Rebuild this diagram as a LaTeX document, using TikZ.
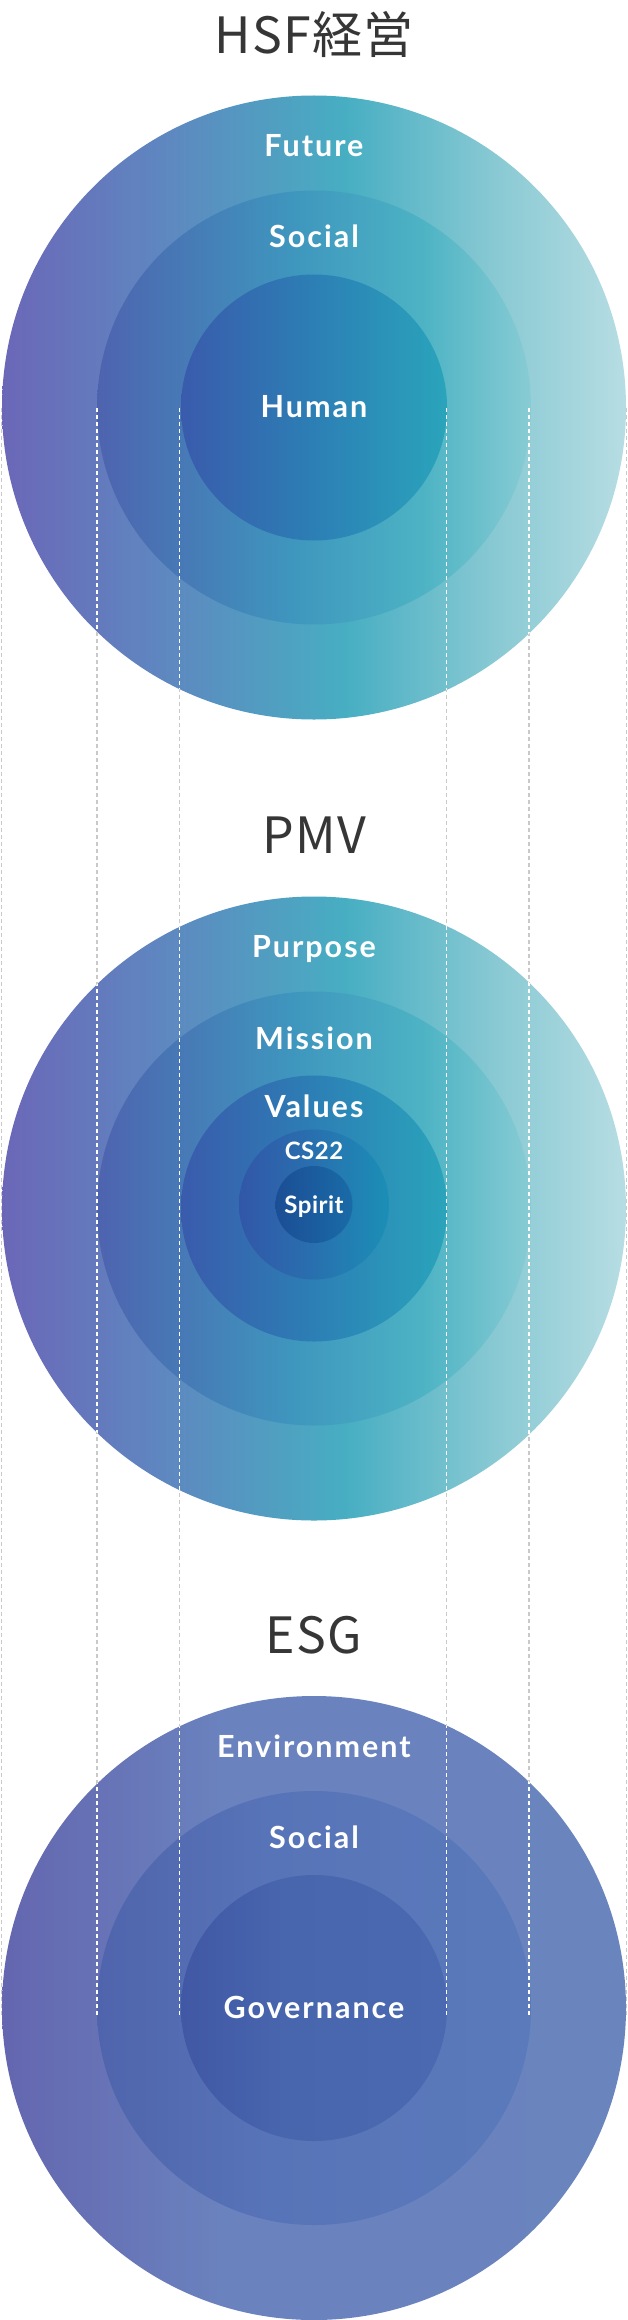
\documentclass[tikz,border=0pt]{standalone}
\usepackage{fontspec}
\setmainfont{Lato}
\newfontfamily\titlefont[LetterSpace=2.5]{Noto Sans CJK JP}
\newfontfamily\labelfont[LetterSpace=6.5]{Lato}
\newfontfamily\smallfont[LetterSpace=2.0]{Lato}
\definecolor{titlecol}{HTML}{363636}
\definecolor{guidecol}{HTML}{C9C9C9}
% HSF / PMV colours
\definecolor{oA}{HTML}{6B67B8}\definecolor{oB}{HTML}{5F86C0}\definecolor{oC}{HTML}{47AEC2}\definecolor{oD}{HTML}{8BCAD4}\definecolor{oE}{HTML}{B7DDE3}
\definecolor{mA}{HTML}{4E63AF}\definecolor{mB}{HTML}{3E96BE}\definecolor{mC}{HTML}{4DB3C4}\definecolor{mD}{HTML}{88CCD4}
\definecolor{iA}{HTML}{3A5BAC}\definecolor{iB}{HTML}{2C7FB5}\definecolor{iC}{HTML}{2AA4BB}
\definecolor{cA}{HTML}{3257A8}\definecolor{cB}{HTML}{2870AF}\definecolor{cC}{HTML}{1B8FB6}
\definecolor{sA}{HTML}{1B4E95}\definecolor{sB}{HTML}{1A6BA7}
% ESG colours
\definecolor{eoA}{HTML}{6466AF}\definecolor{eoB}{HTML}{6A82BE}\definecolor{eoC}{HTML}{6A84BE}
\definecolor{emA}{HTML}{4F64AC}\definecolor{emB}{HTML}{5874B8}\definecolor{emC}{HTML}{5A7ABB}
\definecolor{eiA}{HTML}{4158A5}\definecolor{eiB}{HTML}{4866AE}\definecolor{eiC}{HTML}{4A69B0}
\pgfdeclarehorizontalshading{shOuter}{100bp}{color(0bp)=(oA); color(25bp)=(oA); color(37.5bp)=(oB); color(52.5bp)=(oC); color(65bp)=(oD); color(75bp)=(oE); color(100bp)=(oE)}
\pgfdeclarehorizontalshading{shMid}{100bp}{color(0bp)=(mA); color(25bp)=(mA); color(47.5bp)=(mB); color(62.5bp)=(mC); color(75bp)=(mD); color(100bp)=(mD)}
\pgfdeclarehorizontalshading{shInner}{100bp}{color(0bp)=(iA); color(25bp)=(iA); color(50bp)=(iB); color(75bp)=(iC); color(100bp)=(iC)}
\pgfdeclarehorizontalshading{shCS}{100bp}{color(0bp)=(cA); color(25bp)=(cA); color(50bp)=(cB); color(75bp)=(cC); color(100bp)=(cC)}
\pgfdeclarehorizontalshading{shSpirit}{100bp}{color(0bp)=(sA); color(25bp)=(sA); color(75bp)=(sB); color(100bp)=(sB)}
\pgfdeclarehorizontalshading{shEOuter}{100bp}{color(0bp)=(eoA); color(25bp)=(eoA); color(42.5bp)=(eoB); color(75bp)=(eoC); color(100bp)=(eoC)}
\pgfdeclarehorizontalshading{shEMid}{100bp}{color(0bp)=(emA); color(25bp)=(emA); color(45bp)=(emB); color(75bp)=(emC); color(100bp)=(emC)}
\pgfdeclarehorizontalshading{shEInner}{100bp}{color(0bp)=(eiA); color(25bp)=(eiA); color(45bp)=(eiB); color(75bp)=(eiC); color(100bp)=(eiC)}
\tikzset{
  ring/.style={circle, inner sep=0pt, draw=none, minimum size=#1, shade},
  lbl/.style={text=white, font=\labelfont\bfseries\fontsize{30.5}{32}\selectfont, anchor=base, inner sep=0pt},
  slbl/.style={text=white, font=\smallfont\bfseries\fontsize{24}{25}\selectfont, anchor=base, inner sep=0pt},
  ttl/.style={text=titlecol, font=\titlefont\fontsize{50}{52}\selectfont, anchor=base, inner sep=0pt},
  guide/.style={draw=guidecol, line width=1.2pt, dash pattern=on 4pt off 3pt},
  guidew/.style={draw=white, line width=1.2pt, dash pattern=on 4pt off 3pt},
}
\begin{document}
\begin{tikzpicture}[x=1pt,y=-1pt]
\useasboundingbox[fill=white] (0,0) rectangle (628,2320);
% titles
\node[ttl] (tHSF) at (314,54) {HSF経営};
\node[ttl] (tPMV) at (314,853) {PMV};
\node[ttl] (tESG) at (314,1653) {ESG};
% HSF circles
\node[ring=624pt, shading=shOuter] (hO) at (314,407.5) {};
\node[ring=434pt, shading=shMid] (hM) at (314,407.5) {};
\node[ring=266pt, shading=shInner] (hI) at (314,407.5) {};
% PMV circles
\node[ring=624pt, shading=shOuter] (pO) at (314,1208.5) {};
\node[ring=434pt, shading=shMid] (pM) at (314,1208.5) {};
\node[ring=266pt, shading=shInner] (pI) at (314,1208.5) {};
\node[ring=150pt, shading=shCS] (pC) at (314,1204.5) {};
\node[ring=77pt, shading=shSpirit] (pS) at (314,1204.5) {};
% ESG circles
\node[ring=624pt, shading=shEOuter] (eO) at (314,2008) {};
\node[ring=434pt, shading=shEMid] (eM) at (314,2008) {};
\node[ring=266pt, shading=shEInner] (eI) at (314,2008) {};
% guide lines
\foreach \gx [count=\gi] in {1.5,97,179.5,446.5,529,626.5}{
  \coordinate (gs\gi) at (\gx,408);
  \coordinate (ge\gi) at (\gx,2017);
  \draw[guide] (gs\gi) -- (ge\gi);
}
\begin{scope}
  \clip (314,407.5) circle (312) (314,1208.5) circle (312) (314,2008) circle (312);
  \foreach \gi in {1,...,6}{\draw[guidew] (gs\gi) -- (ge\gi);}
\end{scope}
% labels
\node[lbl] (lFuture) at (314,157) {Future};
\node[lbl] (lSocial) at (314,247) {Social};
\node[lbl] (lHuman) at (314,417) {Human};
\node[lbl] (lPurpose) at (314,957) {Purpose};
\node[lbl] (lMission) at (314,1049) {Mission};
\node[lbl] (lValues) at (314,1117) {Values};
\node[slbl] (lCS) at (314,1159) {CS22};
\node[slbl] (lSpirit) at (314,1213) {Spirit};
\node[lbl] (lEnv) at (314,1757) {Environment};
\node[lbl] (lSocial2) at (314,1848) {Social};
\node[lbl] (lGov) at (314,2018) {Governance};
\end{tikzpicture}
\end{document}
